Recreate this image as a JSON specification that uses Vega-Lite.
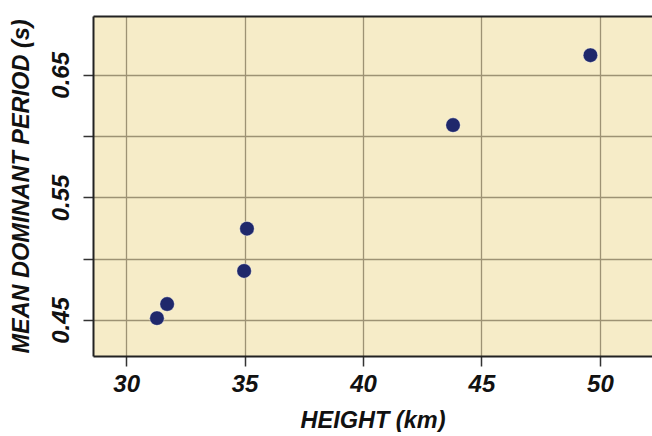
{
  "$schema": "https://vega.github.io/schema/vega-lite/v6.json",
  "width": 559,
  "height": 340,
  "padding": {"left": 9, "top": 16, "right": 0, "bottom": 0},
  "background": "white",
  "config": {
    "view": {"fill": "#f6ecc8", "stroke": null},
    "axis": {
      "labelFont": "Liberation Sans",
      "titleFont": "Liberation Sans",
      "labelFontSize": 24,
      "titleFontSize": 23.5,
      "labelFontStyle": "italic",
      "titleFontStyle": "italic",
      "labelFontWeight": "bold",
      "titleFontWeight": "bold",
      "labelColor": "#111",
      "titleColor": "#111",
      "gridColor": "#9d9274",
      "gridWidth": 1.3,
      "gridOpacity": 1,
      "domainColor": "#222",
      "domainWidth": 2,
      "tickColor": "#333",
      "tickWidth": 1.5,
      "tickSize": 10
    }
  },
  "data": {
    "values": [
      {"height": 31.3, "period": 0.4515},
      {"height": 31.73, "period": 0.463},
      {"height": 34.98, "period": 0.490},
      {"height": 35.1, "period": 0.5245},
      {"height": 43.8, "period": 0.609},
      {"height": 49.6, "period": 0.666}
    ]
  },
  "layer": [
    {
      "mark": {"type": "point", "filled": true, "opacity": 1, "size": 210, "color": "#1f286b", "shape": "circle", "stroke": "#ffffff", "strokeWidth": 0.6, "strokeOpacity": 0.6},
      "encoding": {
        "x": {
          "field": "height", "type": "quantitative",
          "scale": {"domain": [28.6, 52.2], "nice": false, "zero": false},
          "axis": {"title": "HEIGHT (km)", "values": [30, 35, 40, 45, 50], "labelPadding": 6, "titlePadding": 12, "labelFlush": false}
        },
        "y": {
          "field": "period", "type": "quantitative",
          "scale": {"domain": [0.4206, 0.698], "nice": false, "zero": false},
          "axis": {
            "title": "MEAN DOMINANT PERIOD (s)",
            "values": [0.45, 0.5, 0.55, 0.6, 0.65],
            "labelExpr": "(abs(datum.value-0.45)<0.001||abs(datum.value-0.55)<0.001||abs(datum.value-0.65)<0.001) ? format(datum.value, '.2f') : ''",
            "labelAngle": -90,
            "labelAlign": "center",
            "labelBaseline": "bottom",
            "labelPadding": 10,
            "titlePadding": 16,
            "labelFlush": false
          }
        }
      }
    },
    {
      "mark": {"type": "point", "opacity": 0},
      "encoding": {
        "x": {
          "field": "height", "type": "quantitative",
          "scale": {"domain": [28.6, 52.2], "nice": false, "zero": false},
          "axis": {"orient": "top", "title": null, "labels": false, "ticks": false, "grid": false, "domain": true}
        },
        "y": {"field": "period", "type": "quantitative", "scale": {"domain": [0.4206, 0.698], "nice": false, "zero": false}}
      }
    }
  ],
  "resolve": {"scale": {"x": "independent"}}
}
